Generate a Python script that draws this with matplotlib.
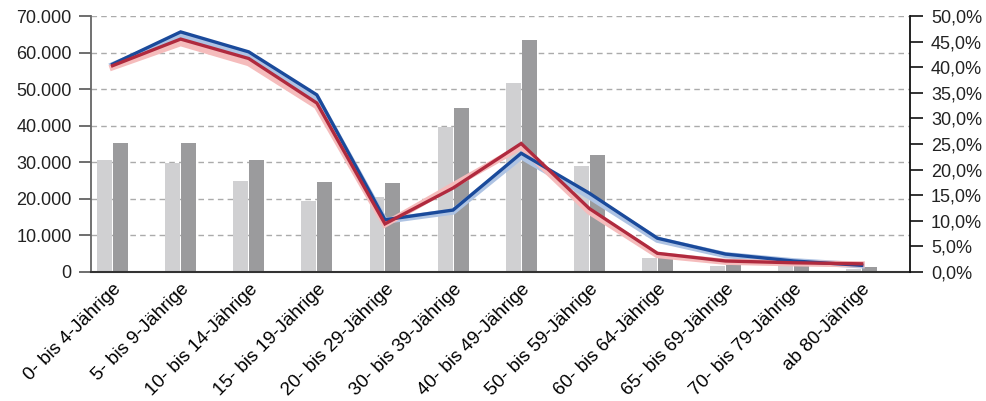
import matplotlib.pyplot as plt
import numpy as np
from matplotlib.ticker import FuncFormatter, MultipleLocator

plt.rcParams['font.family'] = ['Liberation Sans', 'DejaVu Sans']

# Altersgruppen
categories = ['0- bis 4-Jährige', '5- bis 9-Jährige', '10- bis 14-Jährige',
              '15- bis 19-Jährige', '20- bis 29-Jährige', '30- bis 39-Jährige',
              '40- bis 49-Jährige', '50- bis 59-Jährige', '60- bis 64-Jährige',
              '65- bis 69-Jährige', '70- bis 79-Jährige', 'ab 80-Jährige']

# absolute Zahlen (linke Achse)
bars_light = [30600, 29800, 24900, 19500, 20600, 39700, 51600, 29000, 3700, 1650, 1900, 900]
bars_dark = [35200, 35200, 30600, 24600, 24300, 44800, 63400, 32000, 4200, 1900, 2100, 1400]

# Anteile in Prozent (rechte Achse)
share_blue = [40.6, 46.9, 43.0, 34.6, 10.2, 12.1, 23.2, 15.4, 6.6, 3.5, 2.15, 1.3]
share_blue_light = [40.4, 46.1, 42.3, 34.0, 10.0, 11.8, 22.6, 14.8, 6.3, 3.3, 2.1, 1.3]
share_red = [40.3, 45.5, 41.7, 33.0, 9.4, 16.4, 25.1, 12.4, 3.65, 2.15, 1.8, 1.6]
share_red_light = [40.0, 44.7, 40.8, 32.4, 9.3, 16.9, 24.5, 11.8, 3.3, 2.0, 1.7, 1.5]

x = np.arange(len(categories))

fig = plt.figure(figsize=(9.86, 4.01), dpi=100)
ax = fig.add_axes([0.0923, 0.3217, 0.8307, 0.6383])

w = 0.22
ax.bar(x - 0.117, bars_light, width=w, color='#d0d0d2', zorder=2)
ax.bar(x + 0.117, bars_dark, width=w, color='#9b9b9d', zorder=2)

ax.set_ylim(0, 70000)
ax.set_xlim(-0.316, 11.71)
ax.yaxis.set_major_locator(MultipleLocator(10000))
ax.yaxis.set_major_formatter(FuncFormatter(lambda v, p: f'{int(v):,}'.replace(',', '.')))
ax.grid(axis='y', color='#ababab', linestyle=(0, (4, 3)), linewidth=1.0)
ax.set_axisbelow(True)

ax.set_xticks(x)
ax.set_xticklabels(categories, rotation=45, ha='right', rotation_mode='anchor', fontsize=13.5)
ax.tick_params(axis='x', length=0, pad=6)
ax.tick_params(axis='y', labelsize=13, length=9, width=1.2, color='#555555', pad=5, labelcolor='#222222')

for s in ['top', 'right']:
    ax.spines[s].set_visible(False)
ax.spines['left'].set_color('#666666')
ax.spines['left'].set_linewidth(1.3)
ax.spines['bottom'].set_color('#333333')
ax.spines['bottom'].set_linewidth(1.5)

ax2 = ax.twinx()
ax2.plot(x, share_blue_light, color='#aec3e3', linewidth=4.5, solid_joinstyle='miter')
ax2.plot(x, share_red_light, color='#f5bcbc', linewidth=4.5, solid_joinstyle='miter')
ax2.plot(x, share_blue, color='#1a4a9b', linewidth=2.4, solid_joinstyle='miter')
ax2.plot(x, share_red, color='#b02a3e', linewidth=2.4, solid_joinstyle='miter')

ax2.set_ylim(0, 50)
ax2.yaxis.set_major_locator(MultipleLocator(5))
ax2.yaxis.set_major_formatter(FuncFormatter(lambda v, p: f'{v:.1f}%'.replace('.', ',')))
ax2.tick_params(axis='y', labelsize=13, length=9, width=1.2, color='#111111', pad=6, labelcolor='#222222')
for s in ['top', 'left', 'bottom']:
    ax2.spines[s].set_visible(False)
ax2.spines['right'].set_color('#111111')
ax2.spines['right'].set_linewidth(1.3)

fig.savefig('out.png', dpi=100)
